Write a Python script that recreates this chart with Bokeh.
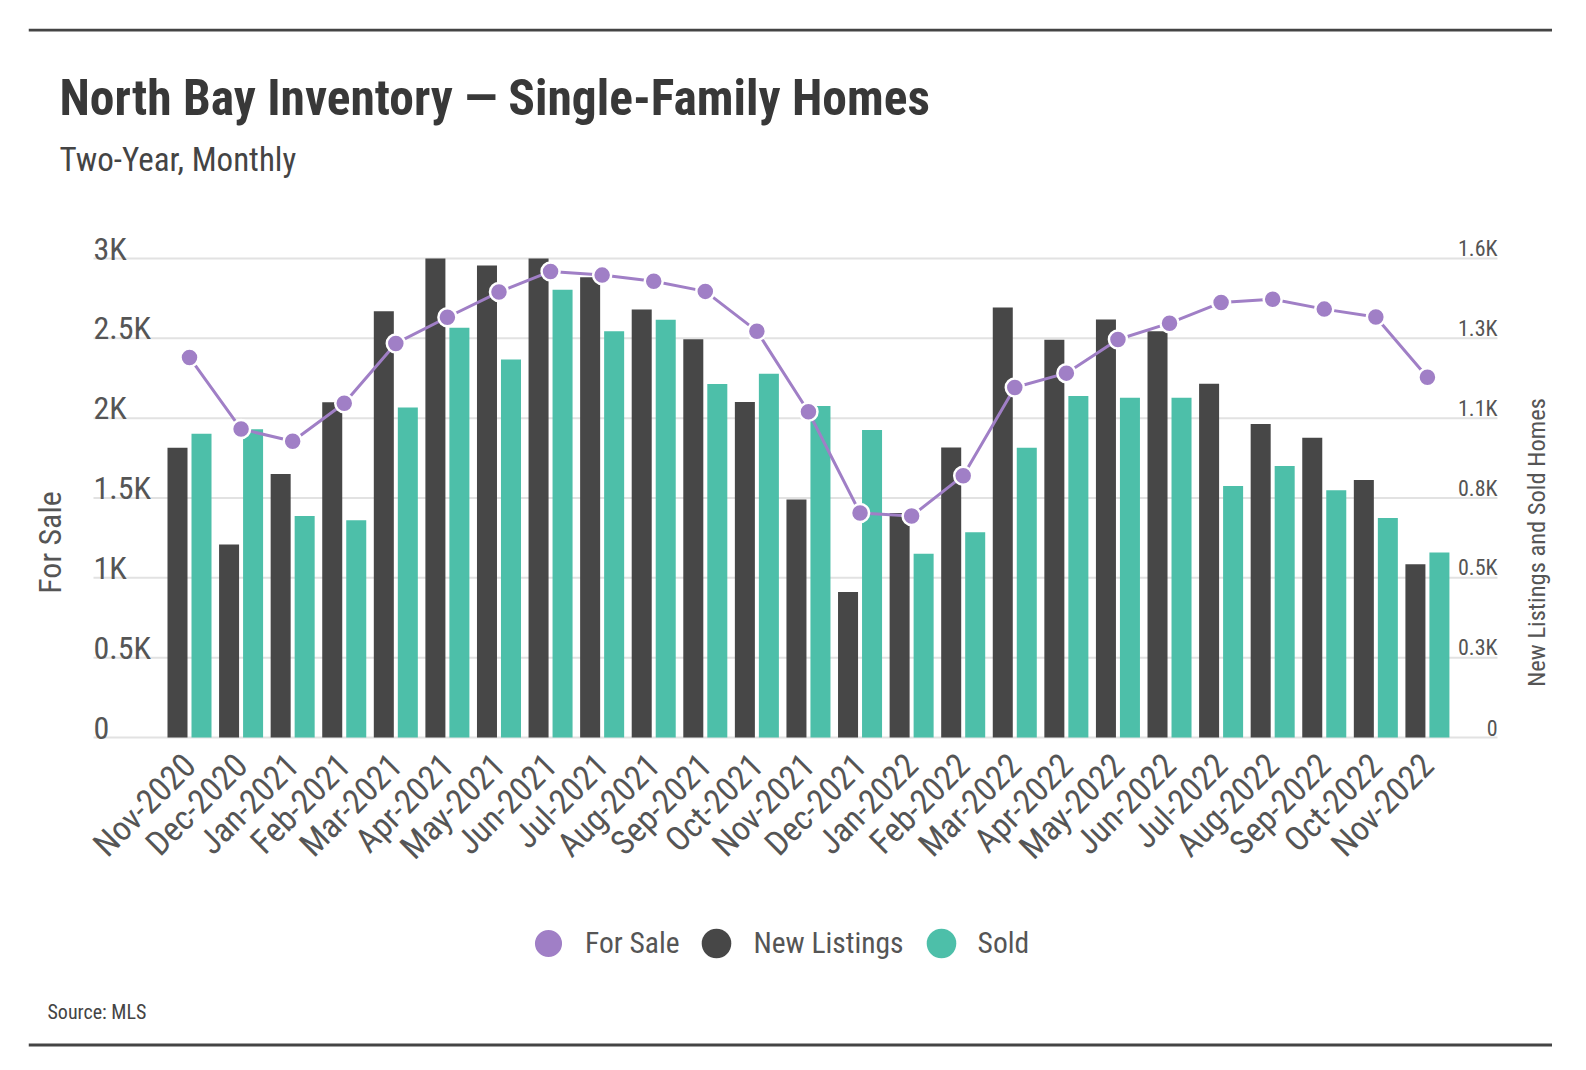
from math import pi
from bokeh.plotting import figure
from bokeh.models import (ColumnDataSource, Range1d, FixedTicker, Legend, LegendItem,
                          Label, Span)
from bokeh.transform import dodge
from bokeh.embed import file_html
from bokeh.resources import INLINE
from bokeh.core.properties import value

# ---------------- data ----------------
months = ["Nov-2020", "Dec-2020", "Jan-2021", "Feb-2021", "Mar-2021", "Apr-2021",
          "May-2021", "Jun-2021", "Jul-2021", "Aug-2021", "Sep-2021", "Oct-2021",
          "Nov-2021", "Dec-2021", "Jan-2022", "Feb-2022", "Mar-2022", "Apr-2022",
          "May-2022", "Jun-2022", "Jul-2022", "Aug-2022", "Sep-2022", "Oct-2022",
          "Nov-2022"]
for_sale = [2380, 1932, 1855, 2093, 2468, 2632, 2790, 2919, 2896, 2857, 2794, 2545,
            2040, 1406, 1387, 1640, 2192, 2282, 2493, 2595, 2724, 2745, 2683, 2634, 2256]
new_listings = [968, 645, 880, 1120, 1424, 1600, 1577, 1600, 1537, 1430, 1330, 1121,
                795, 486, 750, 969, 1436, 1329, 1396, 1357, 1182, 1047, 1001, 860, 579]
sold = [1015, 1030, 740, 726, 1102, 1369, 1263, 1496, 1357, 1395, 1181, 1215,
        1107, 1027, 614, 686, 968, 1141, 1135, 1135, 840, 907, 826, 733, 618]

left_ticks = [0, 500, 1000, 1500, 2000, 2500, 3000]
left_tick_labels = ["0", "0.5K", "1K", "1.5K", "2K", "2.5K", "3K"]
right_ticks = [0, 267, 533, 800, 1067, 1333, 1600]
right_tick_labels = ["0", "0.3K", "0.5K", "0.8K", "1.1K", "1.3K", "1.6K"]

# ---------------- style / layout constants ----------------
FONT = "Roboto Condensed, Noto Sans Condensed, DejaVu Sans Condensed, Roboto"
PURPLE = "#a07fc6"
DARK = "#474747"
TEAL = "#4dbfa9"
TXT = "#555555"

W, H = 1552, 1048            # canvas
BL, BT = 28, 28              # frame starts at x 28, y 28
FW, FH = W - BL, H - BT      # frame size
STEP = 51.58                 # px per month
X0_PX = 189 - 28             # frame left -> first month centre
ZERO_PX = 737 - 28           # frame top -> value 0
TOP_PX = 258 - 28            # frame top -> value 3000 (left scale)
PX_PER_UNIT = (ZERO_PX - TOP_PX) / 3000.0

x_start = -X0_PX / STEP
x_end = x_start + FW / STEP
plot_left = x_start + (93 - 28) / STEP
plot_right = x_start + (1497 - 28) / STEP
y_end = 3000 + TOP_PX / PX_PER_UNIT
y_start = y_end - FH / PX_PER_UNIT
r_scale = 1600 / 3000.0

idx = list(range(len(months)))
src = ColumnDataSource(dict(x=idx, month=months, for_sale=for_sale,
                            new_listings=new_listings, sold=sold))

x_range = Range1d(x_start, x_end)
p = figure(width=W, height=H, x_range=x_range, y_range=Range1d(y_start, y_end),
           output_backend="svg", toolbar_location=None, y_axis_location=None,
           title=None, min_border_left=BL, min_border_top=BT,
           min_border_right=0, min_border_bottom=0)
p.extra_y_ranges = {"right": Range1d(y_start * r_scale, y_end * r_scale)}
p.outline_line_color = None
p.background_fill_color = "white"
p.border_fill_color = "white"
p.grid.visible = False

# horizontal rules framing the graphic
p.add_layout(Span(location=FH - 1.5, location_units="screen", dimension="width",
                  line_color="#444444", line_width=3))
p.add_layout(Span(location=3.5, location_units="screen", dimension="width",
                  line_color="#444444", line_width=3))

# horizontal grid lines (from left-scale ticks)
gsrc = ColumnDataSource(dict(y=left_ticks))
p.segment(x0=plot_left, x1=plot_right, y0="y", y1="y", source=gsrc,
          line_color="#e2e2e2", line_width=2)

# x axis drawn at value 0
xa = p.xaxis[0]
xa.fixed_location = 0
xa.ticker = FixedTicker(ticks=idx)
xa.major_label_overrides = {i: m for i, m in zip(idx, months)}
xa.major_label_orientation = pi / 4
xa.axis_line_color = None
xa.major_tick_line_color = None
xa.minor_tick_line_color = None
xa.major_label_text_font = FONT
xa.major_label_text_font_size = "34px"
xa.major_label_text_color = TXT
xa.major_label_standoff = 16

# bars
p.vbar(x=dodge("x", -0.2327, range=x_range), top="new_listings", width=0.388,
       source=src, y_range_name="right", fill_color=DARK, line_color=None)
p.vbar(x=dodge("x", 0.2327, range=x_range), top="sold", width=0.388,
       source=src, y_range_name="right", fill_color=TEAL, line_color=None)

# line
p.line("x", "for_sale", source=src, line_color=PURPLE, line_width=3)
fs_pts = p.scatter("x", "for_sale", source=src, size=18, fill_color=PURPLE,
                   line_color="white", line_width=2.5)

# y tick labels sitting above the grid lines
lsrc = ColumnDataSource(dict(x=[plot_left] * len(left_ticks), y=left_ticks,
                             text=left_tick_labels))
p.text(x="x", y="y", text="text", source=lsrc, text_font=value(FONT),
       text_font_size="32px", text_color=TXT, text_align="left",
       text_baseline="alphabetic", y_offset=-10)
rsrc = ColumnDataSource(dict(x=[plot_right] * len(right_ticks), y=right_ticks,
                             text=right_tick_labels))
p.text(x="x", y="y", text="text", source=rsrc, y_range_name="right",
       text_font=value(FONT), text_font_size="22px", text_color=TXT,
       text_align="right", text_baseline="alphabetic", y_offset=-10)

# legend (circle markers; bar series represented by hidden circle renderers)
nl_leg = p.scatter("x", "new_listings", source=src, y_range_name="right",
                   fill_color=DARK, line_color=None, visible=False)
so_leg = p.scatter("x", "sold", source=src, y_range_name="right",
                   fill_color=TEAL, line_color=None, visible=False)
legend = Legend(items=[LegendItem(label="For Sale", renderers=[fs_pts]),
                       LegendItem(label="New Listings", renderers=[nl_leg]),
                       LegendItem(label="Sold", renderers=[so_leg])],
                location=(483, 68), orientation="horizontal",
                glyph_width=74, glyph_height=74, label_standoff=0, spacing=0,
                padding=0, margin=0, border_line_color=None,
                background_fill_alpha=0, inactive_fill_alpha=0,
                label_text_font=FONT, label_text_font_size="29.5px",
                label_text_color=TXT)
p.add_layout(legend)

# titles and notes (screen px from frame bottom-left)
p.add_layout(Label(x=31, y=951, x_units="screen", y_units="screen",
                   text="North Bay Inventory \u2014 Single-Family Homes",
                   text_font=FONT, text_font_size="49.5px", text_font_style="bold",
                   text_color="#383838", text_baseline="alphabetic"))
p.add_layout(Label(x=31, y=889, x_units="screen", y_units="screen",
                   text="Two-Year, Monthly", text_font=FONT, text_font_size="33px",
                   text_color="#444444", text_baseline="alphabetic"))
p.add_layout(Label(x=21.5, y=506, x_units="screen", y_units="screen",
                   text="For Sale", angle=pi / 2, text_font=FONT,
                   text_font_size="32px", text_color=TXT, text_align="center",
                   text_baseline="middle"))
p.add_layout(Label(x=1508, y=506, x_units="screen", y_units="screen",
                   text="New Listings and Sold Homes", angle=pi / 2, text_font=FONT,
                   text_font_size="24.5px", text_color=TXT, text_align="center",
                   text_baseline="middle"))
p.add_layout(Label(x=19, y=37, x_units="screen", y_units="screen",
                   text="Source:  MLS", text_font=FONT, text_font_size="20px",
                   text_color="#444444", text_baseline="alphabetic"))

open("out.html", "w").write(file_html(p, INLINE))
